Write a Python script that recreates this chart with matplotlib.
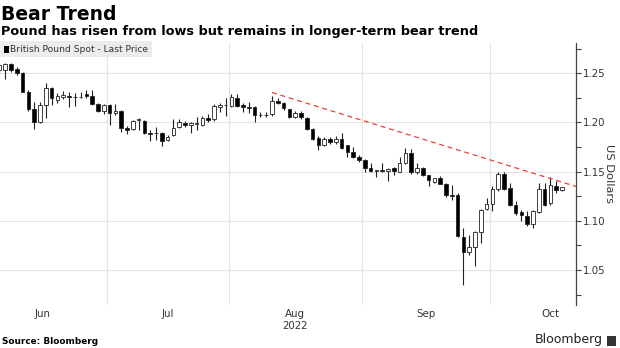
import matplotlib
matplotlib.use("Agg")
import matplotlib.pyplot as plt
from matplotlib.patches import Rectangle
from matplotlib.ticker import MultipleLocator, FixedLocator
import numpy as np
import pandas as pd

# ---------------- data ----------------
dates = pd.bdate_range("2022-06-06", "2022-10-19")

opens = [1.2535, 1.2530, 1.2590, 1.2540, 1.2500, 1.2315, 1.2135, 1.2000, 1.2180, 1.2350,
         1.2230, 1.2255, 1.2272, 1.2262, 1.2258, 1.2290, 1.2265, 1.2185, 1.2120, 1.2180,
         1.2093, 1.2120, 1.1940, 1.1930, 1.2025, 1.2018, 1.1893, 1.1890, 1.1890, 1.1822,
         1.1873, 1.1957, 1.1998, 1.1975, 1.1990, 1.1975, 1.2043, 1.2032, 1.2160, 1.2178,
         1.2168, 1.2248, 1.2178, 1.2160, 1.2160, 1.2076, 1.2080, 1.2083, 1.2222, 1.2201,
         1.2134, 1.2059, 1.2093, 1.2049, 1.1931, 1.1845, 1.1771, 1.1829, 1.1800, 1.1829,
         1.1771, 1.1703, 1.1652, 1.1619, 1.1541, 1.1507, 1.1515, 1.1510, 1.1535, 1.1500,
         1.1585, 1.1687, 1.1493, 1.1534, 1.1466, 1.1392, 1.1433, 1.1375, 1.1266, 1.1263,
         1.0840, 1.0687, 1.0732, 1.0890, 1.1118, 1.1172, 1.1321, 1.1477, 1.1331, 1.1162,
         1.1093, 1.1050, 1.0966, 1.1093, 1.1324, 1.1178, 1.1355, 1.1314]
highs = [1.2600, 1.2600, 1.2600, 1.2565, 1.2510, 1.2330, 1.2205, 1.2205, 1.2405, 1.2360,
         1.2300, 1.2325, 1.2315, 1.2297, 1.2305, 1.2330, 1.2330, 1.2195, 1.2190, 1.2190,
         1.2188, 1.2125, 1.1965, 1.2030, 1.2045, 1.2030, 1.1925, 1.1957, 1.1905, 1.1875,
         1.2033, 1.2040, 1.2020, 1.2010, 1.2059, 1.2065, 1.2090, 1.2185, 1.2195, 1.2245,
         1.2290, 1.2290, 1.2200, 1.2205, 1.2170, 1.2110, 1.2110, 1.2270, 1.2245, 1.2210,
         1.2140, 1.2120, 1.2120, 1.2060, 1.1945, 1.1860, 1.1850, 1.1850, 1.1860, 1.1896,
         1.1775, 1.1748, 1.1665, 1.1625, 1.1588, 1.1520, 1.1590, 1.1535, 1.1545, 1.1645,
         1.1738, 1.1728, 1.1585, 1.1545, 1.1470, 1.1440, 1.1460, 1.1380, 1.1360, 1.1280,
         1.0925, 1.0857, 1.0900, 1.1120, 1.1235, 1.1350, 1.1495, 1.1495, 1.1382, 1.1200,
         1.1110, 1.1100, 1.1115, 1.1380, 1.1382, 1.1443, 1.1408, 1.1345]
lows = [1.2490, 1.2440, 1.2510, 1.2480, 1.2305, 1.2115, 1.1935, 1.1990, 1.2045, 1.2175,
        1.2200, 1.2240, 1.2160, 1.2171, 1.2246, 1.2250, 1.2180, 1.2105, 1.2090, 1.1975,
        1.2080, 1.1900, 1.1880, 1.1920, 1.1925, 1.1880, 1.1812, 1.1822, 1.1760, 1.1810,
        1.1865, 1.1940, 1.1950, 1.1895, 1.1924, 1.1960, 1.2010, 1.2020, 1.2110, 1.2065,
        1.2160, 1.2155, 1.2110, 1.2100, 1.2005, 1.2055, 1.2060, 1.2065, 1.2185, 1.2130,
        1.2045, 1.2045, 1.2040, 1.1925, 1.1820, 1.1720, 1.1760, 1.1780, 1.1785, 1.1735,
        1.1650, 1.1640, 1.1600, 1.1500, 1.1495, 1.1445, 1.1500, 1.1405, 1.1470, 1.1495,
        1.1575, 1.1480, 1.1480, 1.1460, 1.1355, 1.1380, 1.1370, 1.1240, 1.1215, 1.0840,
        1.0349, 1.0653, 1.0540, 1.0773, 1.1110, 1.1100, 1.1300, 1.1310, 1.1150, 1.1055,
        1.1000, 1.0950, 1.0925, 1.1080, 1.1150, 1.1160, 1.1280, 1.1305]
closes = [1.2580, 1.2590, 1.2530, 1.2500, 1.2315, 1.2135, 1.2000, 1.2180, 1.2350, 1.2245,
          1.2265, 1.2275, 1.2262, 1.2258, 1.2264, 1.2265, 1.2188, 1.2120, 1.2178, 1.2093,
          1.2120, 1.1940, 1.1925, 1.2018, 1.2030, 1.1895, 1.1888, 1.1895, 1.1815, 1.1856,
          1.1947, 1.2008, 1.1975, 1.1990, 1.1995, 1.2043, 1.2030, 1.2168, 1.2178, 1.2180,
          1.2255, 1.2165, 1.2155, 1.2150, 1.2076, 1.2080, 1.2075, 1.2222, 1.2201, 1.2144,
          1.2059, 1.2093, 1.2053, 1.1931, 1.1830, 1.1771, 1.1829, 1.1805, 1.1829, 1.1744,
          1.1703, 1.1652, 1.1619, 1.1541, 1.1507, 1.1515, 1.1510, 1.1530, 1.1507, 1.1591,
          1.1693, 1.1493, 1.1534, 1.1466, 1.1415, 1.1433, 1.1375, 1.1263, 1.1254, 1.0847,
          1.0687, 1.0732, 1.0890, 1.1110, 1.1169, 1.1321, 1.1477, 1.1324, 1.1162, 1.1083,
          1.1057, 1.0966, 1.1100, 1.1324, 1.1162, 1.1365, 1.1314, 1.1341]

trend_start_date = "2022-08-10"
trend_prices = [1.2305, 1.1350]

y_ticks = [1.05, 1.10, 1.15, 1.20, 1.25]
month_labels = ["Jun", "Jul", "Aug", "Sep", "Oct"]
year_label = "2022"

title = "Bear Trend"
subtitle = "Pound has risen from lows but remains in longer-term bear trend"
legend_label = "British Pound Spot - Last Price"
y_label = "US Dollars"
source = "Source: Bloomberg"

# ---------------- figure ----------------
W, H = 620, 348
fig = plt.figure(figsize=(W / 100, H / 100), dpi=100)
fig.patch.set_facecolor("white")

ax_left, ax_right, ax_top, ax_bot = 0, 576, 43, 305
ax = fig.add_axes([ax_left / W, 1 - ax_bot / H, (ax_right - ax_left) / W, (ax_bot - ax_top) / H])

n = len(dates)
x = np.arange(n)
px_per_day = 5.8
x_left = 0.1
x_right = x_left + (ax_right - ax_left) / px_per_day
ax.set_xlim(x_left, x_right)
ax.set_ylim(1.0145, 1.2808)

grid_c = "#e4e4e4"
for yt in y_ticks:
    ax.axhline(yt, color=grid_c, lw=0.8, zorder=0)

# month boundaries & month-centred labels (trading-day index)
full = pd.bdate_range("2022-06-01", "2022-10-31")
pos_full = {d: i for i, d in enumerate(full)}
offset = pos_full[dates[0]]
label_pos = []
for m in [6, 7, 8, 9, 10]:
    idx = [pos_full[d] - offset for d in full if d.month == m]
    label_pos.append((idx[0] + idx[-1]) / 2)
    if m > 6:
        ax.axvline(idx[0] - 0.5, color=grid_c, lw=0.8, zorder=0)

# candles
bw = 0.64
for i in range(n):
    o, h, l, c = opens[i], highs[i], lows[i], closes[i]
    ax.vlines(x[i], l, h, color="#222222", lw=0.8, zorder=2)
    lo, hi = min(o, c), max(o, c)
    if hi - lo < 0.0006:
        mid = (hi + lo) / 2
        lo, hi = mid - 0.0003, mid + 0.0003
    up = c >= o
    ax.add_patch(Rectangle((x[i] - bw / 2, lo), bw, hi - lo,
                           facecolor="white" if up else "black",
                           edgecolor="#222222", lw=0.6, zorder=3))

# trend line
t0 = list(dates).index(pd.Timestamp(trend_start_date))
ax.plot([t0, x_right], trend_prices, color="#e8413c", lw=0.9, ls=(0, (4, 3)), zorder=4)

# axes styling
for s in ["top", "left", "bottom"]:
    ax.spines[s].set_visible(False)
ax.spines["right"].set_color("#444444")
ax.spines["right"].set_linewidth(0.9)
ax.yaxis.tick_right()
ax.yaxis.set_major_locator(FixedLocator(y_ticks))
ax.yaxis.set_minor_locator(MultipleLocator(0.025))
ax.set_yticklabels([f"{v:.2f}" for v in y_ticks])
ax.tick_params(axis="y", which="major", length=3.5, width=0.8, color="#444444",
               labelsize=7.4, labelcolor="#333333", pad=1.5)
ax.tick_params(axis="y", which="minor", length=3.5, width=0.8, color="#444444")
ax.set_xticks(label_pos)
ax.set_xticklabels(month_labels)
ax.tick_params(axis="x", length=0, labelsize=7.4, labelcolor="#333333", pad=3)
ax.yaxis.set_label_position("right")
ax.set_ylabel(y_label, rotation=270, fontsize=8.2, color="#333333", labelpad=6)

# year label under Aug
fig.text((ax_left + (label_pos[2] - x_left) * px_per_day) / W,
         1 - 326 / H, year_label, ha="center", va="center", fontsize=7.4, color="#333333")

# legend box
fig.patches.append(Rectangle((0, 1 - 57 / H), 152 / W, 16 / H, transform=fig.transFigure,
                             facecolor="#ececec", edgecolor="none", zorder=5))
fig.patches.append(Rectangle((4 / W, 1 - 52.5 / H), 5 / W, 6 / H, transform=fig.transFigure,
                             facecolor="black", edgecolor="none", zorder=6))
fig.text(10 / W, 1 - 49 / H, legend_label, fontsize=6.6, color="#333333", va="center", ha="left",
         zorder=7)

# titles
fig.text(1 / W, 1 - 14 / H, title, fontsize=13.5, fontweight="bold", va="center", ha="left",
         color="black")
fig.text(1 / W, 1 - 31.5 / H, subtitle, fontsize=9.3, fontweight="bold", va="center", ha="left",
         color="black")
fig.text(2 / W, 1 - 341 / H, source, fontsize=6.4, fontweight="bold", va="center", ha="left",
         color="black")
fig.text(603 / W, 1 - 340 / H, "Bloomberg", fontsize=9, va="center", ha="right", color="#222222")
fig.patches.append(Rectangle((607 / W, 1 - 346 / H), 9 / W, 10 / H, transform=fig.transFigure,
                             facecolor="#333333", edgecolor="none"))

fig.savefig("out.png", dpi=100)
